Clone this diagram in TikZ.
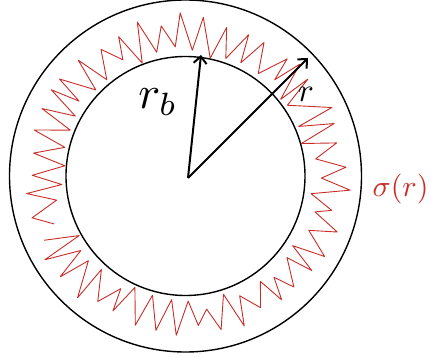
\documentclass[tikz,border=0pt]{standalone}
\usetikzlibrary{arrows.meta,calc}
\definecolor{pen}{RGB}{200,45,40}
\begin{document}
\begin{tikzpicture}[x=1pt,y=-1pt,
  ring/.style={line width=1.4pt,black},
  radius arrow/.style={line width=2pt,-{Straight Barb[length=7pt,width=13pt]}},
  wiggle/.style={pen,line width=0.9pt,line join=round},
  lbl/.style={inner sep=0pt}]
\useasboundingbox (0,0) rectangle (431,358);
\coordinate (o) at (185.5,176);
\draw[ring] (o) circle[radius=176];
\draw[ring] (o) circle[radius=119.5];
\pgfmathsetseed{11}
\draw[wiggle] ($(o)+(160:140)$) \foreach \i in {1,...,89} {
  -- ($(o)+({160+\i*4.0+1.5*rnd}:{mod(\i,2)==0 ? 120+16*rnd : 150+16*rnd})$) };
\coordinate (c) at (188,178);
\coordinate (tb) at (201,55);
\coordinate (tr) at (308,58);
\draw[radius arrow] (c) -- (tb);
\draw[radius arrow] (c) -- (tr);
\node[lbl,scale=4.6] (rb) at (158,102) {$r_b$};
\node[lbl,scale=3.3] (r) at (306,94) {$r$};
\node[lbl,scale=3.0,text=pen,anchor=west] (sig) at (372,189) {$\sigma(r)$};
\end{tikzpicture}
\end{document}
